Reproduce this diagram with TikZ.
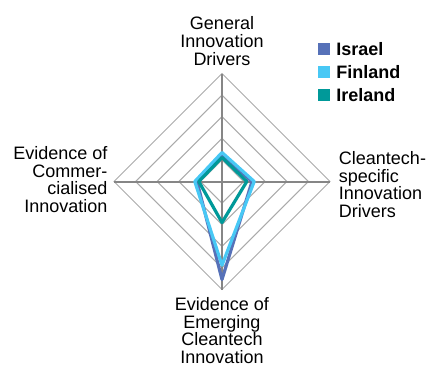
\documentclass[tikz,border=0pt]{standalone}
\usepackage{fontspec}
\setmainfont{Liberation Sans}
\definecolor{israelc}{RGB}{86,113,184}
\definecolor{finlandc}{RGB}{72,200,245}
\definecolor{irelandc}{RGB}{0,153,153}
\definecolor{ringc}{RGB}{170,170,170}
\definecolor{axisc}{RGB}{134,134,134}
\tikzset{
  ring/.style={draw=ringc, line width=0.75pt},
  axisline/.style={draw=axisc, line width=1.5pt},
  series/.style={line width=2.4pt, line join=round},
  lbl/.style={inner sep=0pt, font=\fontsize{13.5}{13.45}\selectfont},
  legtxt/.style={inner sep=0pt, anchor=base west, font=\fontsize{13.5}{13.5}\selectfont\bfseries},
  swatch/.style={inner sep=0pt, minimum size=9pt, anchor=south west}
}
\begin{document}
\begin{tikzpicture}[x=0.75pt,y=-0.75pt]
\useasboundingbox (0,0) rectangle (429,365);
\coordinate (c) at (222,181.5);
% rings
\foreach \r in {21.6,43.2,64.8,86.4,108}{
  \draw[ring] (222,181.5-\r) -- (222+\r,181.5) -- (222,181.5+\r) -- (222-\r,181.5) -- cycle;
}
\coordinate (t) at (222,73.5);
\coordinate (b) at (222,289.5);
\coordinate (l) at (114,181.5);
\coordinate (r) at (330,181.5);
\draw[axisline] (c) -- (t);
\draw[axisline] (c) -- (b);
\draw[axisline] (c) -- (l);
\draw[axisline] (c) -- (r);
% series
\coordinate (is1) at (222,156);
\coordinate (is2) at (252,181.5);
\coordinate (is3) at (222,279.5);
\coordinate (is4) at (197,181.5);
\coordinate (fi1) at (222,152.5);
\coordinate (fi2) at (254.2,181.5);
\coordinate (fi3) at (222,265.2);
\coordinate (fi4) at (194.8,181.5);
\coordinate (ir1) at (222,157.5);
\coordinate (ir2) at (246.8,181.5);
\coordinate (ir3) at (222,222.5);
\coordinate (ir4) at (198.8,181.5);
\draw[series, israelc] (is1) -- (is2) -- (is3) -- (is4) -- cycle;
\draw[series, finlandc] (fi1) -- (fi2) -- (fi3) -- (fi4) -- cycle;
\draw[series, irelandc] (ir1) -- (ir2) -- (ir3) -- (ir4) -- cycle;
% labels
\node[lbl, anchor=north, align=center] (ltop) at (222,16) {General\\Innovation\\Drivers};
\node[lbl, anchor=north west, align=left] (lright) at (338.7,150.8) {Cleantech-\\specific\\Innovation\\Drivers};
\node[lbl, anchor=north east, align=right] (lleft) at (107.7,145.8) {Evidence of\\Commer-\\cialised\\Innovation};
\node[lbl, anchor=north, align=center] (lbottom) at (222,296.8) {Evidence of\\Emerging\\Cleantech\\Innovation};
% legend
\node[swatch, fill=israelc] (sw1) at (317.3,55) {};
\node[swatch, fill=finlandc] (sw2) at (317.3,78.3) {};
\node[swatch, fill=irelandc] (sw3) at (317.3,101.5) {};
\node[legtxt] (lg1) at (336,55) {Israel};
\node[legtxt] (lg2) at (336,78.3) {Finland};
\node[legtxt] (lg3) at (336,101.3) {Ireland};
\end{tikzpicture}
\end{document}
